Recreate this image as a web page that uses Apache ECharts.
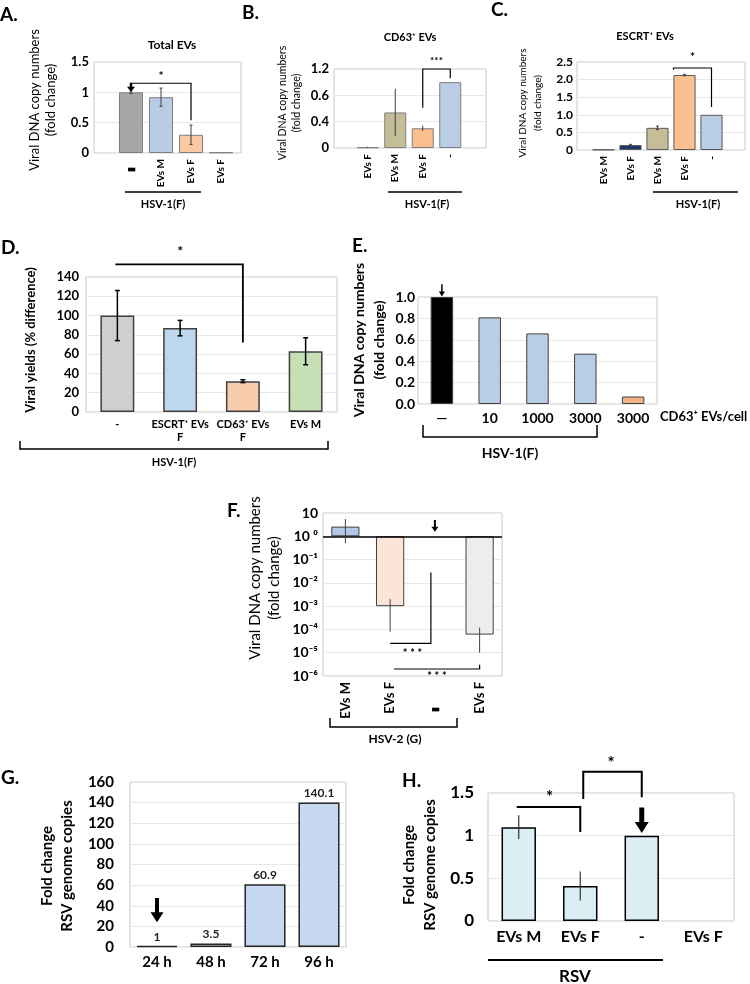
<!DOCTYPE html>
<html><head><meta charset="utf-8">
<script src="https://cdn.jsdelivr.net/npm/echarts@6/dist/echarts.min.js"></script>
<style>html,body{margin:0;padding:0;background:#fff}#c{width:750px;height:984px}</style>
</head><body><div id="c"></div>
<script>
// ---------- DATA ----------
// A. Total EVs
const catsA = ['-', 'EVs M', 'EVs F', 'EVs F'];
const valsA = [1.0, 0.92, 0.30, 0.01];
const errA = [0.02, 0.15, 0.16, 0];
const ticksA = ['0', '0.5', '1', '1.5'];
// B. CD63+ EVs (tick labels as printed in the original)
const catsB = ['EVs F', 'EVs M', 'EVs F', '-'];
const valsB = [0.01, 0.54, 0.30, 1.0];
const errB = [0.01, 0.36, 0.04, 0];
const ticksB = ['0', '0.4', '0.6', '1.2'];
// C. ESCRT+ EVs
const catsC = ['EVs M', 'EVs F', 'EVs M', 'EVs F', '-'];
const valsC = [0.01, 0.14, 0.63, 2.13, 1.0];
const errC = [0, 0.02, 0.05, 0.02, 0];
const ticksC = ['0', '0.5', '1.0', '1.5', '2.0', '2.5'];
// D. Viral yields
const catsD = ['-', 'ESCRT⁺ EVs\nF', 'CD63⁺ EVs\nF', 'EVs M'];
const valsD = [100, 87, 32, 63];
const errD = [26, 8, 1.5, 14];
const ticksD = ['0', '20', '40', '60', '80', '100', '120', '140'];
// E. CD63+ EVs/cell
const catsE = ['—', '10', '1000', '3000', '3000'];
const valsE = [1.0, 0.81, 0.66, 0.47, 0.07];
const ticksE = ['0.0', '0.2', '0.4', '0.6', '0.8', '1.0'];
// F. HSV-2 (G), log scale
const catsF = ['EVs M', 'EVs F', '-', 'EVs F'];
const valsF = [2.6, 0.001, null, 0.00006];
const errLoF = [0.5, 0.00008, null, 0.00001];
const errHiF = [5.5, 0.002, null, 0.00012];
const ticksF = ['10⁻⁶', '10⁻⁵', '10⁻⁴', '10⁻³', '10⁻²', '10⁻¹', '10 ⁰', '10'];
// G. RSV time course
const catsG = ['24 h', '48 h', '72 h', '96 h'];
const valsG = [1, 3.5, 60.9, 140.1];
const ticksG = ['0', '20', '40', '60', '80', '100', '120', '140', '160'];
// H. RSV
const catsH = ['EVs M', 'EVs F', '-', 'EVs F'];
const valsH = [1.1, 0.41, 1.0, null];
const errH = [0.14, 0.17, 0, null];
const ticksH = ['0', '0.5', '1', '1.5'];

// ---------- STYLE ----------
const FONT = 'Lato, "Liberation Sans", sans-serif';
const BORDER = '#c8c8c8', GRIDC = '#e8e8e8';
const colA = ['#a6a6a6', '#b8cce4', '#fac8a2', '#a6a6a6'];
const colB = ['#1f3864', '#c4bd97', '#f9bf8f', '#b9cde5'];
const colC = ['#1f3864', '#1f3864', '#c4bd97', '#fac090', '#b9cde5'];
const colD = ['#d0cece', '#bdd7ee', '#f8cbad', '#c5e0b4'];
const colE = ['#000000', '#b9cde5', '#b9cde5', '#b9cde5', '#f4b183'];
const colF = ['#b4c7e7', '#fbe5d6', '#ffffff', '#ededed'];
const colG = ['#c6d9f1', '#c6d9f1', '#c6d9f1', '#c6d9f1'];
const colH = ['#daeef3', '#daeef3', '#daeef3', '#daeef3'];

const chart = echarts.init(document.getElementById('c'), null, {renderer: 'canvas'});
const grids = [], xAxes = [], yAxes = [], series = [];

function addGrid(box, xAxis, yAxis) {
  grids.push(Object.assign({outerBoundsMode: 'none'}, box));
  const gi = grids.length - 1;
  xAxes.push(Object.assign({gridIndex: gi}, xAxis));
  yAxes.push(Object.assign({gridIndex: gi}, yAxis));
  return gi;
}
function valAxis(min, max, interval, ticks, fs, margin) {
  return {type: 'value', min, max, interval,
    axisLine: {show: false}, axisTick: {show: false},
    axisLabel: {formatter: v => ticks[Math.round((v - min) / interval)], fontFamily: FONT,
      fontWeight: 'bold', fontSize: fs, color: '#000', margin},
    splitLine: {show: true, lineStyle: {color: GRIDC, width: 1}}};
}
function hiddenVal(min, max) { return {type: 'value', min, max, show: false}; }
function catAxis(data, opts) {
  return {type: 'category', data, axisLine: {show: false}, axisTick: {show: false},
    axisLabel: Object.assign({interval: 0, fontFamily: FONT, fontWeight: 'bold', color: '#000'}, opts)};
}
// rotated "-" drawn as a small block, pushed away from the axis
function dashFmt(pad, size) {
  return {formatter: v => v === '-' ? '{d|▮}' : v,
    rich: {d: {fontSize: size, fontFamily: FONT, color: '#000', padding: [0, pad, 0, 0]}}};
}
function barS(gi, vals, colors, gap, border, bw) {
  return {type: 'bar', xAxisIndex: gi, yAxisIndex: gi, barCategoryGap: gap, animation: false,
    data: vals.map((v, i) => ({value: v == null ? '-' : v, itemStyle: {color: colors[i]}})),
    itemStyle: {borderColor: border, borderWidth: bw}, emphasis: {disabled: true}, z: 3};
}
function errS(gi, lows, highs, cap, color, lw) {
  const data = [];
  lows.forEach((l, i) => { if (l != null && highs[i] != null && highs[i] !== l) data.push([i, l, highs[i]]); });
  return {type: 'custom', xAxisIndex: gi, yAxisIndex: gi, z: 6, animation: false, silent: true,
    encode: {x: 0, y: [1, 2]}, data,
    renderItem: (p, api) => {
      const lo = api.coord([api.value(0), api.value(1)]);
      const hi = api.coord([api.value(0), api.value(2)]);
      const x = lo[0];
      const ch = [{type: 'line', shape: {x1: x, y1: lo[1], x2: x, y2: hi[1]}, style: {stroke: color, lineWidth: lw}}];
      if (cap > 0) {
        ch.push({type: 'line', shape: {x1: x - cap, y1: lo[1], x2: x + cap, y2: lo[1]}, style: {stroke: color, lineWidth: lw}});
        ch.push({type: 'line', shape: {x1: x - cap, y1: hi[1], x2: x + cap, y2: hi[1]}, style: {stroke: color, lineWidth: lw}});
      }
      return {type: 'group', children: ch};
    }};
}
const lo = (v, e) => v.map((x, i) => x == null ? null : x - e[i]);
const hi = (v, e) => v.map((x, i) => x == null ? null : x + e[i]);

// ---------- PANEL A ----------
addGrid({left: 94, top: 62, width: 147, height: 91, show: true, borderColor: BORDER, borderWidth: 1},
  {type: 'category', data: [''], show: false}, valAxis(0, 1.5, 0.5, ticksA, 13, 5));
const gA = addGrid({left: 116, top: 62, width: 120, height: 91},
  catAxis(catsA, Object.assign({rotate: 90, fontSize: 10, margin: 6}, dashFmt(8, 9))), hiddenVal(0, 1.5));
series.push(barS(gA, valsA, colA, '20%', '#7f7f7f', 1));
series.push(errS(gA, lo(valsA, errA), hi(valsA, errA), 1.5, '#404040', 1));

// ---------- PANEL B ----------
addGrid({left: 334, top: 69, width: 152, height: 79, show: true, borderColor: BORDER, borderWidth: 1},
  {type: 'category', data: [''], show: false}, valAxis(0, 1.2, 0.4, ticksB, 13, 5));
const gB = addGrid({left: 354, top: 69, width: 110, height: 79},
  catAxis(catsB, {rotate: 90, fontSize: 10, margin: 6}), hiddenVal(0, 1.2));
series.push(barS(gB, valsB, colB, '20%', '#7f7f7f', 1));
series.push(errS(gB, lo(valsB, errB), hi(valsB, errB), 0, '#404040', 1));

// ---------- PANEL C ----------
addGrid({left: 577, top: 62, width: 168, height: 88, show: true, borderColor: BORDER, borderWidth: 1},
  {type: 'category', data: [''], show: false}, valAxis(0, 2.5, 0.5, ticksC, 12, 4));
const gC = addGrid({left: 590, top: 62, width: 135, height: 88},
  catAxis(catsC, {rotate: 90, fontSize: 10, margin: 6}), hiddenVal(0, 2.5));
series.push(barS(gC, valsC, colC, '18%', '#595959', 1));
series.push(errS(gC, lo(valsC, errC), hi(valsC, errC), 1.5, '#404040', 1));

// ---------- PANEL D ----------
const gD = addGrid({left: 86, top: 277, width: 251, height: 135, show: true, borderColor: BORDER, borderWidth: 1},
  catAxis(catsD, {fontSize: 11, margin: 6, lineHeight: 13}), valAxis(0, 140, 20, ticksD, 13, 7));
series.push(barS(gD, valsD, colD, '46%', '#404040', 1.5));
series.push(errS(gD, lo(valsD, errD), hi(valsD, errD), 2.5, '#000', 1.5));

// ---------- PANEL E ----------
const gE = addGrid({left: 418, top: 297, width: 239, height: 107, show: true, borderColor: BORDER, borderWidth: 1},
  catAxis(catsE, {fontSize: 14, margin: 7}), valAxis(0, 1.0, 0.2, ticksE, 14, 3));
series.push(barS(gE, valsE, colE, '53%', '#404040', 1));

// ---------- PANEL F ----------
const gF = addGrid({left: 323, top: 513, width: 179, height: 163, show: true, borderColor: BORDER, borderWidth: 1},
  catAxis(catsF, Object.assign({rotate: 90, fontSize: 13, margin: 6}, dashFmt(25, 9))),
  {type: 'log', logBase: 10, min: 1e-6, max: 10, axisLine: {show: false}, axisTick: {show: false},
   axisLabel: {formatter: v => ticksF[Math.round(Math.log10(v)) + 6], fontFamily: FONT, fontWeight: 'bold', fontSize: 14, color: '#000', margin: 5},
   splitLine: {show: true, lineStyle: {color: GRIDC}}});
const sF = barS(gF, valsF, colF, '37%', '#404040', 1);
sF.markLine = {silent: true, symbol: 'none', animation: false, label: {show: false},
  lineStyle: {color: '#000', width: 1.5, type: 'solid'}, data: [{yAxis: 1}]};
series.push(sF);
series.push(errS(gF, errLoF, errHiF, 0, '#404040', 1));

// ---------- PANEL G ----------
const gG = addGrid({left: 130, top: 782, width: 216, height: 165, show: true, borderColor: BORDER, borderWidth: 1},
  catAxis(catsG, {fontSize: 15, margin: 8}), valAxis(0, 160, 20, ticksG, 15, 16));
const sG = barS(gG, valsG, colG, '24%', '#262626', 1.5);
sG.label = {show: true, position: 'top', distance: 3, fontFamily: FONT, fontWeight: 'bold', fontSize: 12, color: '#222'};
series.push(sG);

// ---------- PANEL H ----------
const gH = addGrid({left: 488, top: 793, width: 246, height: 128, show: true, borderColor: BORDER, borderWidth: 1},
  catAxis(catsH, {fontSize: 16, margin: 8}), valAxis(0, 1.5, 0.5, ticksH, 17, 14));
series.push(barS(gH, valsH, colH, '44%', '#000', 1.5));
series.push(errS(gH, lo(valsH, errH), hi(valsH, errH), 0, '#333', 1.2));

chart.setOption({animation: false, grid: grids, xAxis: xAxes, yAxis: yAxes, series});

// ---------- ANNOTATIONS ----------
const G = [];
const P = (gi, c, v) => chart.convertToPixel({gridIndex: gi}, [c, v]);
function txt(x, y, text, size, weight, align, rot) {
  G.push({type: 'text', x, y, rotation: rot || 0, silent: true, z: 10,
    style: {text, fontSize: size, fontWeight: weight || 'bold', fontFamily: FONT, fill: '#000',
      align: align || 'center', textAlign: align || 'center', verticalAlign: 'middle', textVerticalAlign: 'middle'}});
}
function vtxt(x, y, text, size, weight) { txt(x, y, text, size, weight, 'center', Math.PI / 2); }
function pl(points, lw) {
  G.push({type: 'polyline', silent: true, z: 10, shape: {points}, style: {stroke: '#000', lineWidth: lw || 1.2, fill: null}});
}
function arrow(x, y1, y2, stem, headW, headH) {
  G.push({type: 'polygon', silent: true, z: 10, shape: {points: [
    [x - stem / 2, y1], [x + stem / 2, y1], [x + stem / 2, y2 - headH], [x + headW / 2, y2 - headH],
    [x, y2], [x - headW / 2, y2 - headH], [x - stem / 2, y2 - headH]]}, style: {fill: '#000'}});
}

// panel letters
txt(0, 15, 'A.', 19, 'bold', 'left');
txt(242, 13, 'B.', 19, 'bold', 'left');
txt(491, 10, 'C.', 19, 'bold', 'left');
txt(1, 248, 'D.', 19, 'bold', 'left');
txt(352, 246, 'E.', 19, 'bold', 'left');
txt(227, 511, 'F.', 19, 'bold', 'left');
txt(1, 778, 'G.', 19, 'bold', 'left');
txt(402, 781, 'H.', 19, 'bold', 'left');

// titles
txt(172, 45, 'Total EVs', 12, 'bold');
txt(410, 37, 'CD63⁺ EVs', 11, 'bold');
txt(645, 36, 'ESCRT⁺ EVs', 11, 'bold');

// y-axis titles
vtxt(35, 100, 'Viral DNA copy numbers', 13, 'normal');
vtxt(51, 100, '(fold change)', 13, 'normal');
vtxt(283, 103, 'Viral DNA copy numbers', 10.5, 'normal');
vtxt(297, 103, '(fold change)', 10.5, 'normal');
vtxt(523, 103, 'Viral DNA copy numbers', 10, 'normal');
vtxt(538, 103, '(fold change)', 10, 'normal');
vtxt(31, 340, 'Viral yields (% difference)', 13, 'bold');
vtxt(359, 340, 'Viral DNA copy numbers', 14, 'bold');
vtxt(379, 340, '(fold change)', 14, 'bold');
vtxt(255, 578, 'Viral DNA copy numbers', 15, 'normal');
vtxt(274, 578, '(fold change)', 15, 'normal');
vtxt(47, 866, 'Fold change', 15, 'bold');
vtxt(67, 866, 'RSV genome copies', 15, 'bold');
vtxt(409, 865, 'Fold change', 15, 'bold');
vtxt(430, 865, 'RSV genome copies', 15, 'bold');

// group lines and labels
pl([[125, 192], [201, 192]], 1.5); txt(163, 204, 'HSV-1(F)', 11, 'bold');
pl([[388, 192], [462, 192]], 1.5); txt(427, 204, 'HSV-1(F)', 11, 'bold');
pl([[653, 192], [738, 192]], 1.5); txt(698, 204, 'HSV-1(F)', 11, 'bold');
pl([[20, 441], [20, 449], [328, 449], [328, 441]], 1.5); txt(174, 462, 'HSV-1(F)', 11, 'bold');
pl([[423, 425], [423, 437], [597, 437], [597, 425]], 1.5); txt(510, 453, 'HSV-1(F)', 14, 'bold');
txt(660, 417, 'CD63⁺ EVs/cell', 13, 'bold', 'left');
pl([[330, 718], [330, 727], [457, 727], [457, 718]], 1.5); txt(395, 739, 'HSV-2 (G)', 12, 'bold');
pl([[488, 960], [663, 960]], 2); txt(575, 977, 'RSV', 17, 'bold');

// significance brackets & arrows (positioned through the axes)
{ // A
  const a = P(gA, 0, 1.15), b = P(gA, 2, 1.15), c = P(gA, 2, 0.54), s = P(gA, 1, 1.27);
  pl([[a[0], a[1]], [b[0], b[1]], [c[0], c[1]]], 1.2);
  txt((a[0] + b[0]) / 2, s[1], '*', 12, 'bold');
  const t = P(gA, 0, 1.16), e = P(gA, 0, 1.01);
  arrow(t[0], t[1], e[1], 2.5, 8, 5);
}
{ // B
  const a = P(gB, 2, 0.61), b = P(gB, 2, 1.2), c = P(gB, 3, 1.2), d = P(gB, 3, 1.06), s = P(gB, 2, 1.32);
  pl([a, b, c, d], 1.2);
  txt((b[0] + c[0]) / 2, s[1], '***', 10, 'bold');
}
{ // C
  const a = P(gC, 3, 2.33), c = P(gC, 4, 2.33), d = P(gC, 4, 1.22), t = P(gC, 3, 2.28), s = P(gC, 3, 2.64);
  const x0 = a[0] - 11;
  pl([[x0, t[1]], [x0, a[1]], [c[0], c[1]], d], 1.2);
  txt((x0 + c[0]) / 2, s[1], '*', 12, 'bold');
}
{ // D
  const a = P(gD, 0, 153), b = P(gD, 2, 153), c = P(gD, 2, 72), s = P(gD, 1, 166);
  pl([[a[0] - 2, a[1]], b, c], 1.8);
  txt((a[0] + b[0]) / 2, s[1], '*', 14, 'bold');
}
{ // E
  const t = P(gE, 0, 1.12), e = P(gE, 0, 1.005);
  arrow(t[0], t[1], e[1], 1.5, 6, 5);
}
{ // F
  const x2 = P(gF, 2, 1)[0] - 4, x1 = P(gF, 1, 1)[0], x3 = P(gF, 3, 1)[0];
  const y1 = P(gF, 2, Math.pow(10, -1.55))[1], y2 = P(gF, 2, Math.pow(10, -4.6))[1];
  pl([[x2, y1], [x2, y2], [x1, y2]], 1.2);
  txt((x1 + x2) / 2 + 2, P(gF, 2, Math.pow(10, -5.05))[1], '* * *', 11, 'bold');
  const y3 = P(gF, 1, Math.pow(10, -5.7))[1], y4 = P(gF, 3, Math.pow(10, -5.52))[1];
  pl([[x1 + 4, y3], [x3, y3], [x3, y4]], 1.2);
  txt((x1 + x3) / 2 + 2, P(gF, 2, Math.pow(10, -6.02))[1], '* * *', 11, 'bold');
  const t = P(gF, 2, Math.pow(10, 0.7)), e = P(gF, 2, Math.pow(10, 0.2));
  arrow(t[0], t[1], e[1], 2, 7, 5);
}
{ // G
  const t = P(gG, 0, 47.5), e = P(gG, 0, 24);
  arrow(t[0], t[1], e[1], 4, 13, 10);
}
{ // H
  const a = P(gH, 0, 1.336), b = P(gH, 1, 1.336), c = P(gH, 1, 1.043), s1 = P(gH, 0, 1.45);
  pl([[a[0] - 2, a[1]], b, c], 2);
  txt((a[0] + b[0]) / 2, s1[1], '*', 17, 'bold');
  const d = P(gH, 1, 1.43), e = P(gH, 1, 1.75), f = P(gH, 2, 1.75), g = P(gH, 2, 1.45), s2 = P(gH, 1, 1.84);
  pl([[d[0] + 3, d[1]], [e[0] + 3, e[1]], f, g], 2);
  txt((e[0] + f[0]) / 2, s2[1], '*', 17, 'bold');
  const t = P(gH, 2, 1.33), h = P(gH, 2, 1.03);
  arrow(t[0], t[1], h[1], 5, 14, 11);
}

chart.setOption({graphic: {elements: G}});
</script></body></html>
